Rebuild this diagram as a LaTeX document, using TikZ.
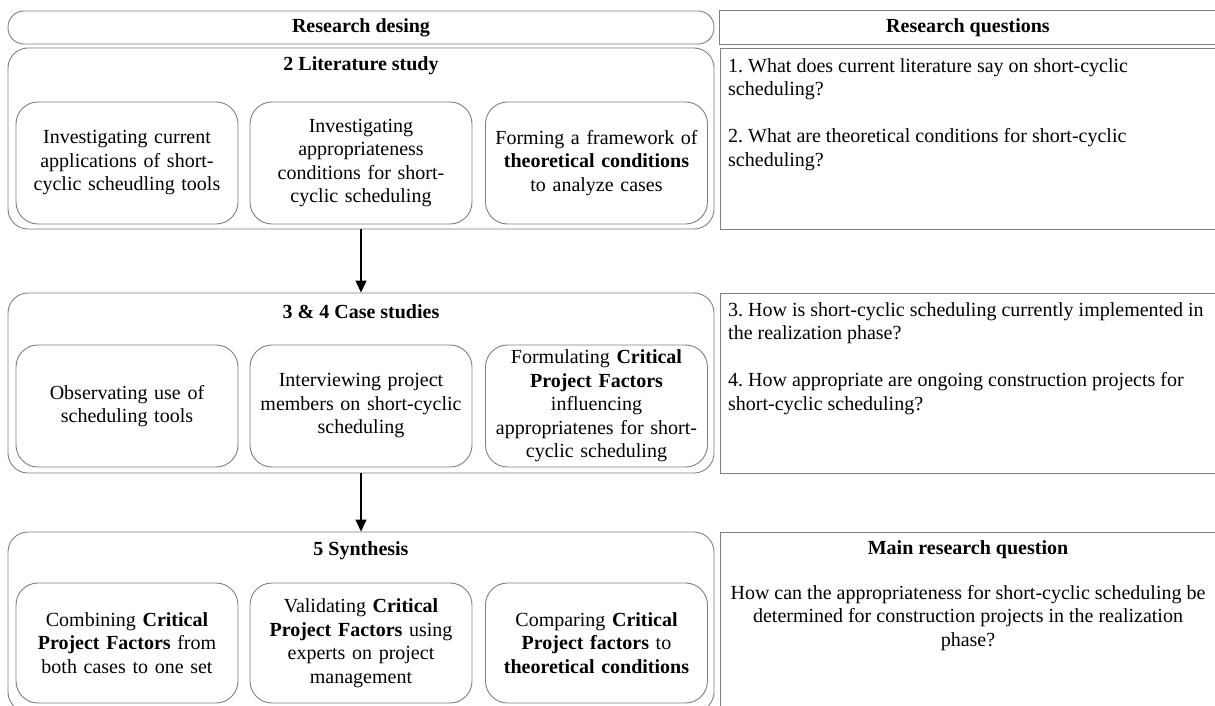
\documentclass[tikz,border=0pt]{standalone}
\usepackage{fontspec}
\setmainfont{Liberation Serif}
\usetikzlibrary{arrows.meta}
\frenchspacing
\definecolor{edge}{HTML}{7F7F7F}
\definecolor{edgelight}{HTML}{BDBDBD}
\newcommand{\bodysize}{\fontsize{20}{23.5}\selectfont}
\tikzset{
  line/.style={draw=edge, line width=0.9pt},
  header/.style={line, rounded corners=16pt, minimum width=706pt, minimum height=33pt, inner sep=0pt},
  stage/.style={line, rounded corners=20pt, minimum width=706pt, inner sep=0pt},
  task/.style={line, rounded corners=22pt, minimum width=222pt, minimum height=122pt,
               text width=212pt, align=center, inner sep=0pt, font=\bodysize},
  qbox/.style={line, minimum width=500pt, inner sep=0pt},
  title/.style={font=\bodysize\bfseries, inner sep=0pt},
  qtext/.style={font=\bodysize, align=left, anchor=north west, inner sep=0pt},
  flow/.style={-{Triangle[length=12pt,width=11pt]}, line width=1.1pt, black}
}
\begin{document}
\begin{tikzpicture}[x=1pt,y=-1pt]
\useasboundingbox (0,0) rectangle (1215,706);
\clip (0,0) rectangle (1215,706);

% column headers
\node[header] (hdesign) at (361,27.5) {};
\node[title] (tdesign) at (361,27.5) {Research desing};
\node[qbox, draw=none, minimum height=33pt] (hquest) at (970,27.5) {};
\draw[edgelight, line width=0.9pt] (hquest.north west) -- (hquest.north east);
\draw[edge, line width=0.9pt] (hquest.north east) -- (hquest.north west) -- (hquest.south west) -- (hquest.south east);
\node[title] (tquest) at (968,27.5) {Research questions};

% stage 2: literature study
\node[stage, minimum height=181pt] (lit) at (361,138.5) {};
\node[title] (tlit) at (361,66) {2 Literature study};
\node[task] (lit1) at (127,163) {Investigating current\\applications of short-\\cyclic scheudling tools};
\node[task] (lit2) at (361,163) {Investigating\\appropriateness\\conditions for short-\\cyclic scheduling};
\node[task] (lit3) at (596.5,163) {Forming a framework of\\\textbf{theoretical conditions}\\to analyze cases};
\node[qbox, minimum height=181pt] (q12) at (970,138.5) {};
\node[qtext] (tq12) at (728,58) {1. What does current literature say on short-cyclic\\scheduling?\\[23.5pt]2. What are theoretical conditions for short-cyclic\\scheduling?};

% stages 3 and 4: case studies
\node[stage, minimum height=180pt] (case) at (361,383) {};
\node[title] (tcase) at (361,312) {3 \& 4 Case studies};
\node[task] (case1) at (127,406) {Observating use of\\scheduling tools};
\node[task] (case2) at (361,406) {Interviewing project\\members on short-cyclic\\scheduling};
\node[task] (case3) at (596.5,406) {Formulating \textbf{Critical}\\\textbf{Project Factors}\\influencing\\appropriatenes for short-\\cyclic scheduling};
\node[qbox, minimum height=180pt] (q34) at (970,383) {};
\node[qtext] (tq34) at (728,302) {3. How is short-cyclic scheduling currently implemented in\\the realization phase?\\[23.5pt]4. How appropriate are ongoing construction projects for\\short-cyclic scheduling?};

% stage 5: synthesis
\node[stage, minimum height=180pt] (syn) at (361,622) {};
\node[title] (tsyn) at (361,551) {5 Synthesis};
\node[task, minimum height=120pt] (syn1) at (127,643) {Combining \textbf{Critical}\\\textbf{Project Factors} from\\both cases to one set};
\node[task, minimum height=120pt] (syn2) at (361,643) {Validating \textbf{Critical}\\\textbf{Project Factors} using\\experts on project\\management};
\node[task, minimum height=120pt] (syn3) at (596.5,643) {Comparing \textbf{Critical}\\\textbf{Project factors} to\\\textbf{theoretical conditions}};
\node[qbox, minimum height=188pt] (qmain) at (970,626) {};
\node[title] (tmain) at (968,550) {Main research question};
\node[font=\bodysize, align=center, inner sep=0pt] (tqmain) at (968,618) {How can the appropriateness for short-cyclic scheduling be\\determined for construction projects in the realization\\phase?};

% flow between stages
\draw[flow] (lit.south) -- (case.north);
\draw[flow] (case.south) -- (syn.north);
\end{tikzpicture}
\end{document}
